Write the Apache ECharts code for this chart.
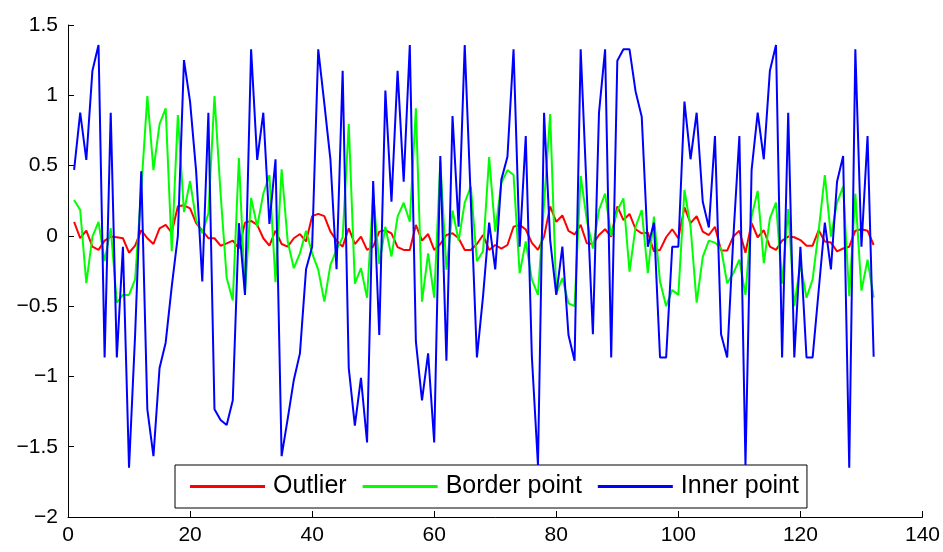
<!DOCTYPE html>
<html>
<head>
<meta charset="utf-8">
<script src="https://cdn.jsdelivr.net/npm/echarts@6/dist/echarts.min.js"></script>
<style>html,body{margin:0;padding:0;background:#fff;}#c{width:943px;height:552px;}</style>
</head>
<body>
<div id="c"></div>
<script>
const seriesNames = ["Outlier", "Border point", "Inner point"];
const xTicks = [0, 20, 40, 60, 80, 100, 120, 140];
const yTicks = [-2, -1.5, -1, -0.5, 0, 0.5, 1, 1.5];
const pointIndex = Array.from({length: 132}, (_, i) => i + 1);

const outlier = [
  0.10, -0.017, 0.037, -0.077, -0.10, -0.034, -0.005, -0.01, -0.017, -0.12,
  -0.07, 0.04, -0.017, -0.058, 0.054, 0.078, 0.023, 0.21, 0.217, 0.196,
  0.09, 0.037, -0.017, -0.017, -0.07, -0.053, -0.034, -0.09, 0.094, 0.106,
  0.078, -0.017, -0.07, 0.037, -0.058, -0.077, -0.017, 0.013, -0.04, 0.14,
  0.156, 0.14, 0.03, -0.034, -0.077, 0.054, -0.058, -0.005, -0.1, -0.077,
  0.03, 0.04, 0.018, -0.08, -0.1, -0.1, 0.078, -0.034, 0.013, -0.1,
  -0.058, 0.006, 0.018, -0.017, -0.1, -0.1, -0.058, 0.006, -0.1, -0.065,
  -0.09, -0.065, 0.065, 0.078, 0.045, -0.05, -0.1, -0.005, 0.21, 0.1,
  0.145, 0.035, 0.01, 0.078, -0.053, -0.058, 0.006, 0.047, -0.005, 0.21,
  0.113, 0.156, 0.047, 0.018, 0.023, -0.11, -0.1, -0.01, 0.047, -0.017,
  0.203, 0.09, 0.14, 0.03, 0.006, 0.065, -0.105, -0.105, -0.005, 0.037,
  -0.12, 0.09, -0.01, 0.04, -0.077, -0.1, -0.034, -0.005, -0.01, -0.03,
  -0.07, -0.07, 0.04, -0.04, -0.048, -0.11, -0.09, -0.077, 0.037, 0.047,
  0.037, -0.065
];
const borderPoint = [
  0.255, 0.184, -0.337, -0.005, 0.1, -0.18, 0.054, -0.475, -0.42, -0.42,
  -0.31, 0.33, 0.995, 0.468, 0.795, 0.907, -0.11, 0.86, 0.17, 0.39,
  0.11, 0.018, 0.16, 0.995, 0.3, -0.3, -0.46, 0.554, -0.41, 0.27,
  0.066, 0.3, 0.433, -0.33, 0.474, -0.04, -0.23, -0.124, 0.037, -0.124,
  -0.24, -0.468, -0.207, -0.1, -0.01, 0.795, -0.34, -0.23, -0.44, 0.3,
  -0.2, 0.066, -0.148, 0.137, 0.236, 0.1, 0.907, -0.468, -0.124, -0.44,
  0.528, -0.24, 0.18, -0.034, 0.236, 0.35, -0.18, -0.11, 0.56, 0.03,
  0.375, 0.468, 0.433, -0.266, -0.04, -0.31, -0.42, 0.23, 0.867, -0.41,
  -0.3, -0.48, -0.5, 0.426, 0.113, -0.09, 0.184, 0.3, 0.0, 0.18,
  0.267, -0.255, 0.065, 0.184, -0.266, 0.137, -0.325, -0.5, -0.385, -0.42,
  0.326, 0.065, -0.475, -0.15, -0.034, -0.048, -0.09, -0.337, -0.266, -0.17,
  -0.42, 0.137, 0.32, -0.195, 0.125, 0.236, -0.34, 0.19, -0.5, -0.2,
  -0.44, -0.31, 0.04, 0.433, -0.005, 0.236, 0.35, -0.43, 0.30, -0.39,
  -0.17, -0.44
];
const innerPoint = [
  0.47, 0.876, 0.54, 1.175, 1.358, -0.865, 0.876, -0.865, -0.077, -1.65,
  -0.7, 0.46, -1.234, -1.567, -0.94, -0.76, -0.36, 0, 1.25, 0.955,
  0.457, -0.325, 0.876, -1.234, -1.31, -1.345, -1.17, 0.09, -0.42, 1.327,
  0.54, 0.876, 0.085, 0.545, -1.567, -1.30, -1.025, -0.836, -0.238, -0.077,
  1.327, 0.94, 0.54, -0.238, 1.175, -0.94, -1.35, -1.01, -1.47, 0.39,
  -0.705, 1.033, 0.243, 1.175, 0.385, 1.358, -0.753, -1.17, -0.836, -1.47,
  0.568, -0.888, 0.853, 0.065, 1.358, 0.25, -0.865, -0.43, 0.094, -0.238,
  0.4, 0.563, 1.327, -0.077, 0.71, -0.86, -1.63, 0.876, -0.03, -0.42,
  -0.077, -0.705, -0.888, 1.327, 0.3, -0.70, 0.876, 1.327, -0.865, 1.246,
  1.327, 1.327, 1.026, 0.848, -0.077, 0.094, -0.865, -0.865, -0.077, -0.077,
  0.955, 0.545, 0.876, 0.243, 0.06, 0.71, -0.70, -0.865, -0.017, 0.71,
  -1.63, 0.468, 0.876, 0.545, 1.175, 1.358, -0.865, 0.876, -0.865, -0.077,
  -0.865, -0.865, -0.385, 0.094, -0.238, 0.385, 0.568, -1.65, 1.327, -0.077,
  0.71, -0.86
];
const colors = ["#ff0000", "#00ff00", "#0000ff"];

const pair = arr => arr.map((v, i) => [pointIndex[i], v]);
const fmtNum = v => (v < 0 ? "\u2212" + Math.abs(v) : String(v));
const font = "'Liberation Sans', Arial, sans-serif";

const chart = echarts.init(document.getElementById('c'), null, {renderer: 'canvas'});
const allData = [outlier, borderPoint, innerPoint];
chart.setOption({
  animation: false,
  backgroundColor: '#ffffff',
  grid: {left: 68, right: 19, top: 25, bottom: 35},
  xAxis: {
    type: 'value', min: xTicks[0], max: xTicks[xTicks.length - 1], interval: 20,
    axisLine: {show: true, onZero: false, lineStyle: {color: '#000', width: 1}},
    axisTick: {show: true, inside: true, length: 6, lineStyle: {color: '#000'}},
    axisLabel: {color: '#000', fontSize: 21, fontFamily: font, margin: 8, formatter: fmtNum},
    splitLine: {show: false}
  },
  yAxis: {
    type: 'value', min: yTicks[0], max: yTicks[yTicks.length - 1], interval: 0.5,
    axisLine: {show: true, onZero: false, lineStyle: {color: '#000', width: 1}},
    axisTick: {show: true, inside: true, length: 6, lineStyle: {color: '#000'}},
    axisLabel: {color: '#000', fontSize: 21, fontFamily: font, margin: 10, formatter: fmtNum},
    splitLine: {show: false}
  },
  legend: {
    left: 175, top: 465,
    orient: 'horizontal',
    backgroundColor: '#fff',
    borderColor: '#000', borderWidth: 1,
    padding: [9, 8, 9, 15],
    itemGap: 16,
    itemWidth: 75, itemHeight: 3,
    icon: 'rect',
    textStyle: {color: '#000', fontSize: 25, fontFamily: font, padding: [0, 0, 0, 3]},
    data: seriesNames
  },
  series: seriesNames.map((name, k) => ({
    name: name,
    type: 'line',
    data: pair(allData[k]),
    symbol: 'none',
    showSymbol: false,
    color: colors[k],
    lineStyle: {color: colors[k], width: 2},
    z: 2 + k
  }))
});
</script>
</body>
</html>
